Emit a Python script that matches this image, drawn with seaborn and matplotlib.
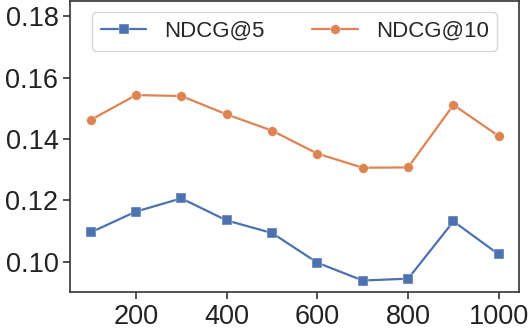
import pandas as pd
import seaborn as sns
import matplotlib.pyplot as plt

# values
sizes = [100, 200, 300, 400, 500, 600, 700, 800, 900, 1000]
ndcg5 = [0.1095, 0.1163, 0.1206, 0.1134, 0.1093, 0.0996, 0.0938, 0.0944, 0.1131, 0.1023]
ndcg10 = [0.1462, 0.1543, 0.1540, 0.1480, 0.1427, 0.1352, 0.1306, 0.1307, 0.1511, 0.1409]
yticks = [0.10, 0.12, 0.14, 0.16, 0.18]

sns.set_theme(style="ticks", palette="deep")
plt.rcParams['font.family'] = ['Liberation Sans', 'DejaVu Sans']

df = pd.DataFrame({"x": sizes * 2,
                   "y": ndcg5 + ndcg10,
                   "metric": ["NDCG@5"] * len(sizes) + ["NDCG@10"] * len(sizes)})

fig, ax = plt.subplots(figsize=(5.32, 3.32), dpi=100)
sns.lineplot(data=df, x="x", y="y", hue="metric", style="metric",
             markers={"NDCG@5": "s", "NDCG@10": "o"}, dashes=False,
             markersize=7, linewidth=1.6, markeredgewidth=0.3, ax=ax)

ax.set_ylim(0.09, 0.185)
ax.set_yticks(yticks)
ax.set_yticklabels([f"{t:.2f}" for t in yticks])
ax.set_xticks([200, 400, 600, 800, 1000])
ax.tick_params(labelsize=19.5, width=1.2, length=5, color="#333333", labelcolor="#222222")
ax.set_xlabel("")
ax.set_ylabel("")
for s in ax.spines.values():
    s.set_linewidth(1.2)
    s.set_color("#333333")

leg = ax.legend(loc="upper center", ncol=2, fontsize=16, frameon=True,
                handlelength=2.05, handletextpad=0.8, columnspacing=2.15,
                borderpad=0.4)
leg.set_title(None)

plt.subplots_adjust(left=0.132, right=0.976, top=0.997, bottom=0.12)
fig.savefig("out.png", dpi=100)
